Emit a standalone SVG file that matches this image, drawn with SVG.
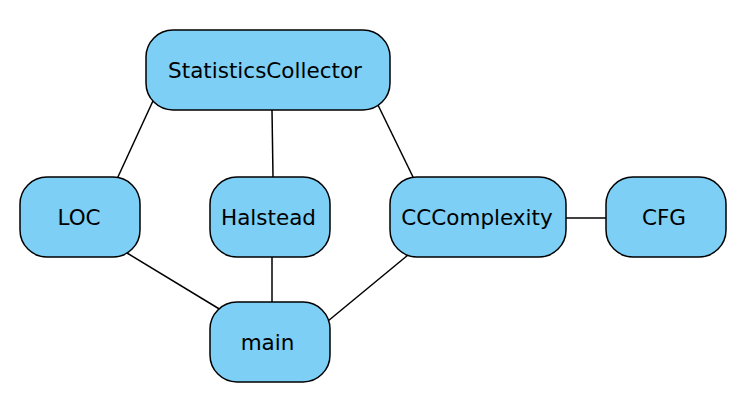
<svg xmlns="http://www.w3.org/2000/svg" width="739" height="409" viewBox="0 0 739 409">
<style>
.n rect{fill:#7dcff5;stroke:#000;stroke-width:1.5}
.n text{font-family:"DejaVu Sans",sans-serif;font-size:21.5px;fill:#000;text-anchor:middle}
.e line{stroke:#000;stroke-width:1.5}
</style>
<rect width="739" height="409" fill="#fff"/>
<g class="e" id="connectors">
<line x1="158" y1="90" x2="117" y2="179"/>
<line x1="272" y1="110" x2="273" y2="177"/>
<line x1="377" y1="103" x2="414" y2="179"/>
<line x1="127" y1="253" x2="221" y2="310"/>
<line x1="272" y1="257" x2="272" y2="302"/>
<line x1="408" y1="255" x2="328" y2="321"/>
<line x1="566" y1="218" x2="606" y2="218"/>
</g>
<g class="n" id="StatisticsCollector"><rect x="146" y="30" width="244" height="80" rx="27"/><text x="265" y="78">StatisticsCollector</text></g>
<g class="n" id="LOC"><rect x="20" y="177" width="120" height="80" rx="27"/><text x="79" y="225">LOC</text></g>
<g class="n" id="Halstead"><rect x="210" y="177" width="120" height="80" rx="27"/><text x="268.5" y="225">Halstead</text></g>
<g class="n" id="CCComplexity"><rect x="390" y="177" width="176" height="80" rx="27"/><text x="477" y="225">CCComplexity</text></g>
<g class="n" id="CFG"><rect x="606" y="177" width="120" height="80" rx="27"/><text x="664" y="225">CFG</text></g>
<g class="n" id="main"><rect x="210" y="302" width="120" height="80" rx="27"/><text x="267.5" y="350">main</text></g>
</svg>
